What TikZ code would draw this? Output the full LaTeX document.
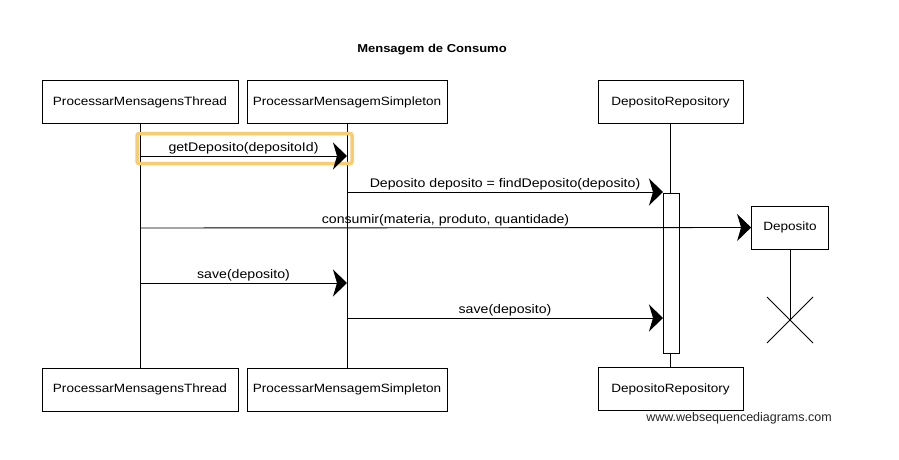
\documentclass[tikz,border=0pt]{standalone}
\usepackage{fontspec}
\setmainfont[FakeStretch=1.13]{Liberation Sans}
\newfontfamily\wsdfont{Liberation Sans}
\usetikzlibrary{arrows.meta,calc}
\definecolor{hl}{RGB}{250,204,112}
\begin{document}
\begin{tikzpicture}[x=1pt,y=-1pt,
  actor/.style={draw, line width=0.8pt, fill=white, minimum height=43pt, inner sep=0pt,
    font=\fontsize{12}{14}\selectfont},
  life/.style={line width=0.6pt},
  msg/.style={line width=0.9pt, -{Stealth[length=14pt,width=27pt,inset=4pt]}},
  lbl/.style={font=\fontsize{12.5}{14}\selectfont, inner sep=1.5pt, above},
  activ/.style={draw, line width=0.7pt, fill=white, minimum width=16pt, minimum height=160pt, inner sep=0pt},
  highlight/.style={draw=hl, line width=3.5pt, rounded corners=2pt, minimum width=215pt, minimum height=30pt, inner sep=0pt}
]
\useasboundingbox (0,0) rectangle (899,460);
\fill[white] (0,0) rectangle (899,460);

\node[font=\bfseries\fontsize{11.5}{13}\selectfont] (title) at (432,50) {Mensagem de Consumo};

% top actors
\node[actor, minimum width=196pt] (pmt) at (140,102) {ProcessarMensagensThread};
\node[actor, minimum width=200pt] (pms) at (347,102) {ProcessarMensagemSimpleton};
\node[actor, minimum width=145pt] (dr) at (670.5,102) {DepositoRepository};
\node[actor, minimum width=77pt] (dep) at (790,227.5) {Deposito};

% bottom actors
\node[actor, minimum width=196pt] (pmtb) at (140,389.5) {ProcessarMensagensThread};
\node[actor, minimum width=200pt] (pmsb) at (347,389.5) {ProcessarMensagemSimpleton};
\node[actor, minimum width=145pt] (drb) at (670.5,389) {DepositoRepository};

% lifelines
\draw[life] (pmt.south) -- (pmtb.north);
\draw[life] (pms.south) -- (pmsb.north);
\draw[life] (dr.south) -- (drb.north);
\coordinate (xc) at (790,320);
\draw[life] (dep.south) -- (xc);

% activation bar
\node[activ] (act) at (671,273) {};

% destroy mark
\coordinate (xa) at ($(xc)+(-23,-23)$);
\coordinate (xb) at ($(xc)+(23,23)$);
\coordinate (xd) at ($(xc)+(23,-23)$);
\coordinate (xe) at ($(xc)+(-23,23)$);
\draw[line width=1pt] (xa) -- (xb);
\draw[line width=1pt] (xd) -- (xe);

% highlight
\node[highlight] (hlbox) at (244.5,148.5) {};

% messages
\coordinate (m1a) at (140,156); \coordinate (m1b) at (347,156);
\draw[msg] (m1a) -- node[lbl] (l1) {getDeposito(depositoId)} (m1b);

\coordinate (m2a) at (347,192); \coordinate (m2b) at (663,192);
\draw[msg] (m2a) -- node[lbl] (l2) {Deposito deposito = findDeposito(deposito)} (m2b);

\coordinate (m3a) at (140,228);
\draw[msg] (m3a) -- node[lbl] (l3) {consumir(materia, produto, quantidade)} (dep.west);

\coordinate (m4a) at (140,283); \coordinate (m4b) at (347,283);
\draw[msg] (m4a) -- node[lbl] (l4) {save(deposito)} (m4b);

\coordinate (m5a) at (347,318); \coordinate (m5b) at (663,318);
\draw[msg] (m5a) -- node[lbl] (l5) {save(deposito)} (m5b);

% watermark
\node[font=\wsdfont\fontsize{12.5}{14}\selectfont, text=black!85] (wm) at (739,418) {www.websequencediagrams.com};
\end{tikzpicture}
\end{document}
